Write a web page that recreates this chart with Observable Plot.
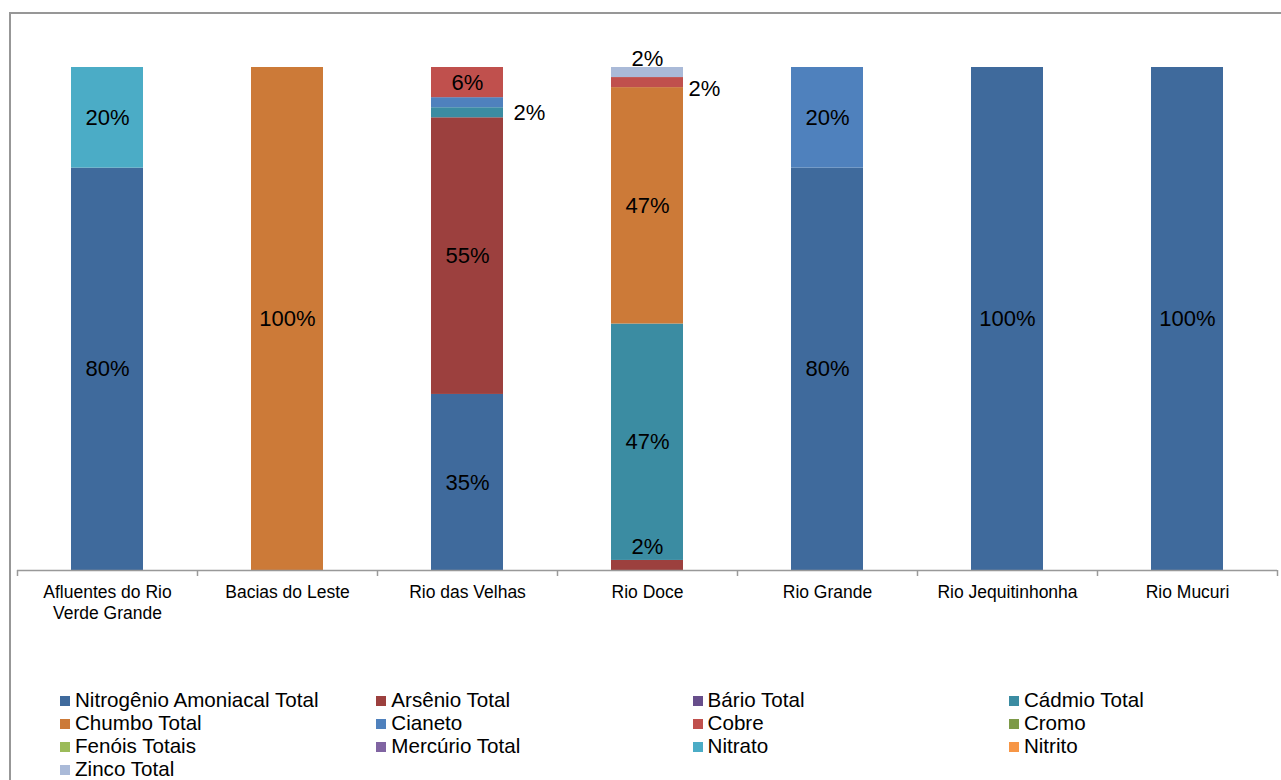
<!DOCTYPE html>
<html>
<head>
<meta charset="utf-8">
<script src="https://cdn.jsdelivr.net/npm/d3@7"></script>
<script src="https://cdn.jsdelivr.net/npm/@observablehq/plot@0.6"></script>
<style>
  html, body { margin: 0; padding: 0; background: #fff; overflow: hidden; }
  body { width: 1281px; height: 780px; position: relative; font-family: "Liberation Sans", Arial, sans-serif; }
  #frame { position: absolute; left: 9px; top: 12px; width: 1400px; height: 900px;
           border-left: 2px solid #979797; border-top: 2px solid #979797; box-sizing: border-box; }
  #chart { position: absolute; left: 0; top: 0; }
  #legend { position: absolute; left: 60px; top: 688px; display: grid;
            grid-template-columns: repeat(4, 316.3px); grid-auto-rows: 23px;
            font-size: 20.6px; line-height: 23px; color: #000; }
  .item { display: flex; align-items: center; white-space: nowrap; }
  .sw { width: 10px; height: 10px; margin-right: 5px; margin-top: 2px; flex: none; }
</style>
</head>
<body>
<div id="frame"></div>
<div id="chart"></div>
<div id="legend"></div>
<script>
// Basins (x categories) and their axis labels
const basins = ["Afluentes do Rio Verde Grande", "Bacias do Leste", "Rio das Velhas", "Rio Doce",
                "Rio Grande", "Rio Jequitinhonha", "Rio Mucuri"];
const basinLabels = ["Afluentes do Rio\nVerde Grande", "Bacias do Leste", "Rio das Velhas", "Rio Doce",
                     "Rio Grande", "Rio Jequitinhonha", "Rio Mucuri"];

// Parameters (stack order, bottom to top) and their colours
const params = ["Nitrogênio Amoniacal Total", "Arsênio Total", "Bário Total", "Cádmio Total",
                "Chumbo Total", "Cianeto", "Cobre", "Cromo",
                "Fenóis Totais", "Mercúrio Total", "Nitrato", "Nitrito",
                "Zinco Total"];
const colors = ["#3f6a9c", "#9c403e", "#674e8b", "#3b8ca2",
                "#cc7a38", "#4f81bd", "#c0504d", "#7d9a48",
                "#9bbb59", "#8064a2", "#4bacc6", "#f79646",
                "#aabad8"];

// Share (%) of each parameter per basin, in basin order
const nitrogenio = [80, 0, 35, 0, 80, 100, 100];
const arsenio    = [0, 0, 55, 2, 0, 0, 0];
const bario      = [0, 0, 0, 0, 0, 0, 0];
const cadmio     = [0, 0, 2, 47, 0, 0, 0];
const chumbo     = [0, 100, 0, 47, 0, 0, 0];
const cianeto    = [0, 0, 2, 0, 20, 0, 0];
const cobre      = [0, 0, 6, 2, 0, 0, 0];
const cromo      = [0, 0, 0, 0, 0, 0, 0];
const fenois     = [0, 0, 0, 0, 0, 0, 0];
const mercurio   = [0, 0, 0, 0, 0, 0, 0];
const nitrato    = [20, 0, 0, 0, 0, 0, 0];
const nitrito    = [0, 0, 0, 0, 0, 0, 0];
const zinco      = [0, 0, 0, 2, 0, 0, 0];

const series = [nitrogenio, arsenio, bario, cadmio, chumbo, cianeto, cobre,
                cromo, fenois, mercurio, nitrato, nitrito, zinco];

const rows = params.flatMap((param, j) =>
  basins.map((basin, i) => ({basin, param, value: series[j][i]})));

const W = 1281, H = 640, mL = 17, mR = 4, mT = 67, mB = 70;
const half = (W - mL - mR) / basins.length / 2;
const labelOf = new Map(basins.map((b, i) => [b, basinLabels[i]]));
const pct = v => `${v}%`;
const stackOpts = {x: "basin", y: "value", z: "param"};

// a label for one single segment, shifted off its centre
const segLabel = (basin, param, extra) =>
  Plot.text(rows, Plot.stackY({
    ...stackOpts,
    text: d => (d.basin === basin && d.param === param) ? pct(d.value) : null,
    fontSize: 22, fill: "#000", ...extra
  }));

const chart = Plot.plot({
  width: W, height: H,
  marginLeft: mL, marginRight: mR, marginTop: mT, marginBottom: mB,
  style: {fontFamily: "'Liberation Sans', Arial, sans-serif", fontSize: "17.5px",
          color: "#000", background: "transparent", overflow: "visible"},
  x: {domain: basins, paddingInner: 0.6, paddingOuter: 0.3, align: 0.5, axis: null},
  y: {domain: [0, 100], axis: null},
  color: {domain: params, range: colors},
  marks: [
    Plot.barY(rows, Plot.stackY({...stackOpts, fill: "param"})),
    Plot.ruleY([0], {stroke: "#999", strokeWidth: 1.5}),
    Plot.ruleX(basins, {x: d => d, y1: 0, y2: 0, dx: -half, insetBottom: -6, stroke: "#999", strokeWidth: 1.5}),
    Plot.ruleX([basins[basins.length - 1]], {x: d => d, y1: 0, y2: 0, dx: half, insetBottom: -6, stroke: "#999", strokeWidth: 1.5}),
    Plot.axisX({tickSize: 0, tickPadding: 13, label: null, lineHeight: 1.17,
                tickFormat: d => labelOf.get(d)}),
    // centred labels on the larger segments
    Plot.text(rows, Plot.stackY({...stackOpts, text: d => d.value >= 5 ? pct(d.value) : null,
                                 fontSize: 22, fill: "#000"})),
    // small segments: labels moved aside
    segLabel("Rio das Velhas", "Cádmio Total", {textAnchor: "start", dx: 46}),
    segLabel("Rio Doce", "Arsênio Total", {dy: -19}),
    segLabel("Rio Doce", "Cobre", {textAnchor: "start", dx: 41, dy: 6}),
    segLabel("Rio Doce", "Zinco Total", {dy: -14})
  ]
});
document.getElementById("chart").appendChild(chart);

// legend, filled row by row in four columns
const legend = document.getElementById("legend");
params.forEach((p, i) => {
  const item = document.createElement("div");
  item.className = "item";
  const sw = document.createElement("span");
  sw.className = "sw";
  sw.style.background = colors[i];
  const t = document.createElement("span");
  t.textContent = p;
  item.append(sw, t);
  legend.appendChild(item);
});
</script>
</body>
</html>
